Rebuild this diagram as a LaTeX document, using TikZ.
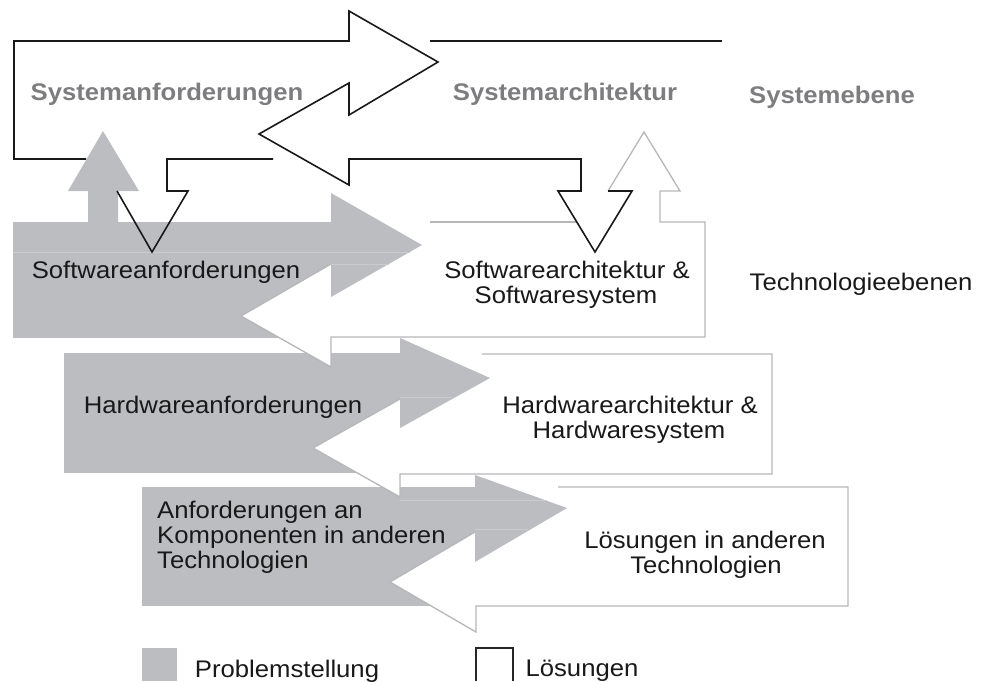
\documentclass[tikz,border=0pt]{standalone}
\usepackage{fontspec}
\newfontfamily\lab{Liberation Sans}[FakeStretch=1.07]
\definecolor{pgray}{RGB}{188,189,192}
\definecolor{lgray}{RGB}{183,183,186}
\definecolor{tgray}{RGB}{125,125,127}
\definecolor{tblack}{RGB}{25,25,25}
\definecolor{faint}{RGB}{202,203,205}
\begin{document}
\begin{tikzpicture}[x=1pt,y=-1pt,
  soledge/.style={draw=lgray,line width=1.3pt,line join=miter},
  sysedge/.style={draw=black!90,line width=1.6pt,line join=miter},
  seam/.style={draw=faint,line width=0.7pt},
  lbl/.style={font=\lab\fontsize{24}{25}\selectfont,text=tblack,inner sep=0pt,anchor=base},
  lbll/.style={lbl,anchor=base west},
  syslbl/.style={font=\lab\bfseries\fontsize{24}{25}\selectfont,text=tgray,inner sep=0pt,anchor=base},
]
\useasboundingbox (0,0) rectangle (981,681);

% ---------- level 3: andere Technologien ----------
\fill[pgray] (142,487) rectangle (475,606);
\fill[white] (390,582) -- (475,532) -- (475,557) -- (558,557) -- (558,487) -- (848,487) -- (848,606) -- (476,606) -- (476,632) -- cycle;
\draw[soledge] (558,487) -- (848,487) -- (848,606) -- (476,606) -- (476,632) -- (390,582) -- (475,532);
\fill[pgray] (142,487) -- (475,487) -- (475,475) -- (567,508) -- (475,562) -- (475,532) -- (142,532) -- cycle;
\draw[seam] (400,500) -- (547,500);
\draw[seam] (475,529) -- (528,529);

% ---------- level 2: Hardware ----------
\fill[pgray] (64,353) rectangle (400,473);
\fill[white] (313,448) -- (400,399) -- (400,425) -- (482,425) -- (482,354) -- (772,354) -- (772,474) -- (400,474) -- (400,497) -- cycle;
\draw[soledge] (482,354) -- (772,354) -- (772,474) -- (400,474) -- (400,497) -- (313,448) -- (400,399);
\fill[pgray] (64,353) -- (400,353) -- (400,338) -- (490,378) -- (400,428) -- (400,399) -- (64,399) -- cycle;
\draw[seam] (400,397) -- (452,397);

% ---------- level 1: Software ----------
\fill[pgray] (13,222) rectangle (331,338);
\fill[white] (241,316) -- (331,264) -- (331,295) -- (430,295) -- (430,222) -- (705,222) -- (705,337) -- (331,337) -- (331,367) -- cycle;
\draw[soledge] (430,222) -- (577,222);
\draw[soledge] (608,191) -- (644,132) -- (680,191) -- (660,191) -- (660,222) -- (705,222) -- (705,337) -- (331,337) -- (331,367) -- (241,316) -- (331,264);
\fill[pgray] (13,222) -- (331,222) -- (331,193) -- (422,245) -- (331,297) -- (331,264) -- (13,264) -- cycle;
\draw[seam] (13,252) -- (410,252);
\draw[seam] (331,264) -- (389,264);

% ---------- system level ----------
\draw[sysedge] (86,159) -- (14,159) -- (14,41) -- (349,41) -- (349,11) -- (438,62) -- (349,115) -- (349,83) -- (259,134) -- (349,185) -- (349,159) -- (581,159) -- (581,191) -- (558,191) -- (595,252) -- (632,191) -- (608,191);
\draw[sysedge] (430,41) -- (722,41);
\fill[pgray] (88,222) -- (88,191) -- (68,191) -- (103,131) -- (139,191) -- (118,191) -- (118,222) -- cycle;
\draw[sysedge] (273,159) -- (167,159) -- (167,191) -- (188,191) -- (152,252) -- (117,191);

% ---------- labels ----------
\node[syslbl] (sysanf) at (167,100) {Systemanforderungen};
\node[syslbl] (sysarch) at (565,100) {Systemarchitektur};
\node[syslbl] (sysebene) at (832,103) {Systemebene};

\node[lbl] (swanf) at (166,278) {Softwareanforderungen};
\node[lbl] (swarchA) at (567,278) {Softwarearchitektur \&};
\node[lbl] (swarchB) at (566,303) {Softwaresystem};
\node[lbl] (techeb) at (861,290) {Technologieebenen};

\node[lbl] (hwanf) at (223,413) {Hardwareanforderungen};
\node[lbl] (hwarchA) at (630,413) {Hardwarearchitektur \&};
\node[lbl] (hwarchB) at (629,438) {Hardwaresystem};

\node[lbll] (andA) at (157,518) {Anforderungen an};
\node[lbll] (andB) at (157,543) {Komponenten in anderen};
\node[lbll] (andC) at (157,568) {Technologien};
\node[lbl] (loesA) at (705,548) {Lösungen in anderen};
\node[lbl] (loesB) at (706,573) {Technologien};

% ---------- legend ----------
\fill[pgray] (142,648) rectangle (177,681);
\draw[black!85,line width=1.2pt] (476,681) -- (476,648) -- (513,648) -- (513,681);
\node[lbl] (legP) at (287,677) {Problemstellung};
\node[lbl] (legL) at (582,676) {Lösungen};
\end{tikzpicture}
\end{document}
